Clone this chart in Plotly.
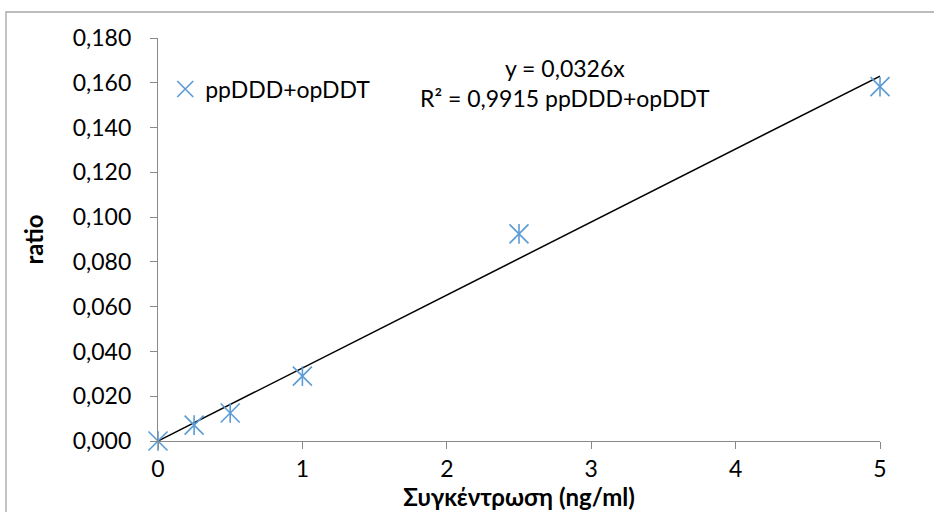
import plotly.graph_objects as go

# Calibration data: concentration vs. response ratio
concentration = [0, 0.25, 0.5, 1, 2.5, 5]
ratio = [0.000, 0.0071, 0.0125, 0.0290, 0.0925, 0.1583]
series_name = "ppDDD+opDDT"

# Linear fit through the origin
slope = 0.0326
r_squared = 0.9915
fit_x = [0, 5]
fit_y = [slope * v for v in fit_x]

x_ticks = [0, 1, 2, 3, 4, 5]
y_ticks = [0.000, 0.020, 0.040, 0.060, 0.080, 0.100, 0.120, 0.140, 0.160, 0.180]

BLUE = "#5B9BD5"
AXIS = "#898989"
FONT = "Lato, 'Open Sans', sans-serif"
TICK_SIZE = 23
TITLE_SIZE = 24

fig = go.Figure()

# Trendline
fig.add_trace(go.Scatter(
    x=fit_x, y=fit_y, mode="lines",
    line=dict(color="black", width=1.5),
    showlegend=False, hoverinfo="skip", cliponaxis=False,
))

# Data markers: diagonal cross plus a vertical stroke
fig.add_trace(go.Scatter(
    x=concentration, y=ratio, mode="markers", name=series_name,
    marker=dict(symbol="x-thin-open", size=19,
                line=dict(color=BLUE, width=1.6), color=BLUE),
    cliponaxis=False,
))
fig.add_trace(go.Scatter(
    x=concentration, y=ratio, mode="markers", showlegend=False,
    marker=dict(symbol="line-ns-open", size=14,
                line=dict(color=BLUE, width=1.6), color=BLUE),
    cliponaxis=False,
))

eq_text = (f"y = {slope:.4f}x".replace(".", ",")
           + "<br>R² = " + f"{r_squared:.4f}".replace(".", ",") + " " + series_name)

plot_w = 934 - 158 - 54
plot_h = 512 - 38 - 71

fig.add_annotation(
    x=(565 - 158) / plot_w, xref="paper", y=(441 - 83) / plot_h, yref="paper",
    xanchor="center", yanchor="middle",
    text=eq_text, showarrow=False,
    font=dict(size=TICK_SIZE, color="black", family=FONT), align="center",
)

fig.update_layout(
    width=934, height=512,
    margin=dict(l=158, r=54, t=38, b=71),
    paper_bgcolor="white", plot_bgcolor="white",
    separators=",.",
    font=dict(family=FONT, size=TICK_SIZE, color="black"),
    showlegend=True,
    legend=dict(x=0.01, y=(441 - 89) / plot_h, xanchor="left", yanchor="middle",
                bgcolor="rgba(0,0,0,0)", font=dict(size=TICK_SIZE, family=FONT),
                itemwidth=30, tracegroupgap=0),
    xaxis=dict(
        range=[0, 5], tickvals=x_ticks, showgrid=False, zeroline=False,
        showline=True, linecolor=AXIS, linewidth=1.3,
        ticks="outside", ticklen=7, tickcolor=AXIS, tickwidth=1.3,
        tickfont=dict(size=TICK_SIZE, family=FONT),
        title=dict(text="<b>Συγκέντρωση (ng/ml)</b>", standoff=0,
                   font=dict(size=TITLE_SIZE, family=FONT)),
    ),
    yaxis=dict(
        range=[0, 0.180], tickvals=y_ticks, tickformat=".3f",
        showgrid=False, zeroline=False,
        showline=True, linecolor=AXIS, linewidth=1.3,
        ticks="outside", ticklen=7, tickcolor=AXIS, tickwidth=1.3,
        ticklabelstandoff=14,
        tickfont=dict(size=TICK_SIZE, family=FONT),
        title=dict(text="<b>ratio</b>", standoff=22,
                   font=dict(size=TITLE_SIZE, family=FONT)),
    ),
)

# Outer chart frame
fig.add_shape(
    type="rect", xref="paper", yref="paper",
    x0=(6 - 158) / plot_w, x1=1.3, y0=-0.3, y1=(441 - 12) / plot_h,
    line=dict(color="#a6a6a6", width=1.3), fillcolor="rgba(0,0,0,0)",
    layer="below",
)

fig.write_html("out.html")
